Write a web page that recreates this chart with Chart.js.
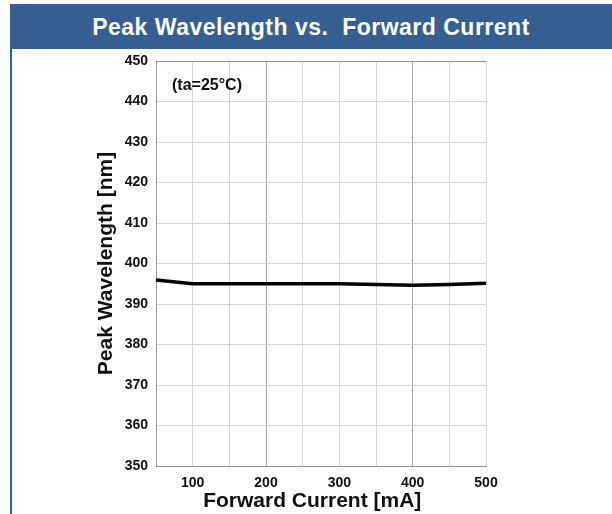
<!DOCTYPE html>
<html lang="en">
<head>
    <meta charset="UTF-8">
    <title>Peak Wavelength vs. Forward Current</title>
    <style>
        body {
            margin: 0;
            padding: 0;
            background-color: #fff;
            font-family: "Liberation Sans", Arial, sans-serif;
        }
        .page {
            position: relative;
            width: 612px;
            height: 514px;
            overflow: hidden;
        }
        .header {
            position: absolute;
            left: 10px;
            top: 4px;
            width: 602px;
            height: 45px;
            background-color: #365f91;
            color: #fff;
            font-weight: bold;
            font-size: 23px;
            letter-spacing: 0.5px;
            line-height: 47px;
            text-align: center;
            z-index: 2;
        }
        .left-border {
            position: absolute;
            left: 10px;
            top: 4px;
            width: 2px;
            height: 510px;
            background-color: #365f91;
            z-index: 2;
        }
        .chart-box {
            position: absolute;
            left: 0;
            top: 0;
            width: 612px;
            height: 514px;
        }
    </style>
    <script src="https://cdn.jsdelivr.net/npm/chart.js"></script>
</head>
<body>
    <div class="page">
        <div class="header">Peak Wavelength vs.&nbsp; Forward Current</div>
        <div class="left-border"></div>
        <div class="chart-box">
            <canvas id="wlChart" width="612" height="514"></canvas>
        </div>
    </div>

    <script>
        // values
        const currents = [50, 100, 150, 200, 250, 300, 350, 400, 450, 500];
        const wavelengths = [395.9, 395.0, 395.0, 395.0, 395.0, 395.0, 394.8, 394.6, 394.8, 395.1];
        const gridSteps = [50, 100, 150, 200, 250, 300, 350, 400, 450, 500];
        const xTicks = [100, 200, 300, 400, 500];
        const yTicks = [350, 360, 370, 380, 390, 400, 410, 420, 430, 440, 450];
        const noteText = '(ta=25\u00B0C)';

        const points = currents.map((c, i) => ({ x: c, y: wavelengths[i] }));

        // small label inside the plot, top left
        const notePlugin = {
            id: 'note',
            afterDraw(chart) {
                const ctx = chart.ctx;
                const a = chart.chartArea;
                ctx.save();
                ctx.font = 'bold 16px "Liberation Sans", Arial, sans-serif';
                ctx.fillStyle = '#111';
                ctx.textBaseline = 'middle';
                ctx.fillText(noteText, a.left + 16, a.top + 25);
                ctx.restore();
            }
        };

        const tickFont = { family: '"Liberation Sans", Arial, sans-serif', size: 14, weight: 'bold' };
        const titleFont = { family: '"Liberation Sans", Arial, sans-serif', size: 21, weight: 'bold' };

        const ctx = document.getElementById('wlChart').getContext('2d');
        const wlChart = new Chart(ctx, {
            type: 'line',
            data: {
                datasets: [{
                    data: points,
                    borderColor: '#000',
                    borderWidth: 3.5,
                    pointRadius: 0,
                    tension: 0,
                    fill: false
                }]
            },
            options: {
                responsive: false,
                animation: false,
                layout: {
                    padding: { left: 94, right: 126, top: 61, bottom: 0 }
                },
                plugins: {
                    legend: { display: false },
                    tooltip: { enabled: false }
                },
                scales: {
                    x: {
                        type: 'linear',
                        min: 50,
                        max: 500,
                        afterFit(scale) { scale.height = 48; },
                        afterBuildTicks(scale) {
                            scale.ticks = gridSteps.map(v => ({ value: v }));
                        },
                        ticks: {
                            color: '#111',
                            font: tickFont,
                            padding: 9,
                            maxRotation: 0,
                            autoSkip: false,
                            callback: v => xTicks.includes(v) ? String(v) : ''
                        },
                        grid: {
                            drawTicks: false,
                            color: c => (c.tick && (c.tick.value === 200 || c.tick.value === 400)) ? '#a8a8a8' : '#d4d4d4',
                            lineWidth: 1
                        },
                        border: { color: '#999', width: 1 },
                        title: {
                            display: true,
                            // trailing spaces nudge the centred title a little left, as in the source
                            text: 'Forward Current [mA]   ',
                            color: '#111',
                            font: titleFont,
                            padding: { top: 0, bottom: 0 }
                        }
                    },
                    y: {
                        min: 350,
                        max: 450,
                        afterFit(scale) { scale.width = 62; },
                        afterBuildTicks(scale) {
                            scale.ticks = yTicks.map(v => ({ value: v }));
                        },
                        ticks: {
                            color: '#111',
                            font: tickFont,
                            padding: 8
                        },
                        grid: {
                            drawTicks: false,
                            color: c => (c.tick && c.tick.value === 450) ? '#999' : '#d4d4d4',
                            lineWidth: 1
                        },
                        border: { color: '#999', width: 1 },
                        title: {
                            display: true,
                            text: 'Peak Wavelength [nm]',
                            color: '#111',
                            font: titleFont,
                            padding: { top: 0, bottom: 0 }
                        }
                    }
                }
            },
            plugins: [notePlugin]
        });
    </script>
</body>
</html>
